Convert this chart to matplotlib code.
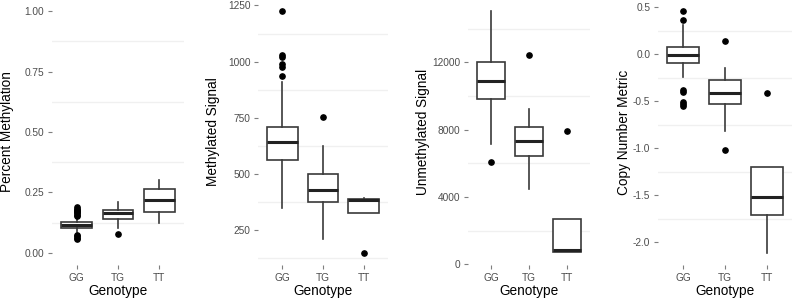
import matplotlib
matplotlib.use("Agg")
import matplotlib.pyplot as plt
from matplotlib.ticker import MultipleLocator

plt.rcParams['font.family'] = ['Liberation Sans', 'DejaVu Sans']

genotypes = ['GG', 'TG', 'TT']

# box stats: (whislo, q1, med, q3, whishi, fliers)
pct_meth = [
    (0.088, 0.105, 0.117, 0.128, 0.145,
     [0.152, 0.158, 0.163, 0.168, 0.173, 0.178, 0.183, 0.188,
      0.058, 0.063, 0.068, 0.073]),
    (0.101, 0.142, 0.166, 0.177, 0.209, [0.080]),
    (0.122, 0.170, 0.218, 0.263, 0.300, []),
]
meth_signal = [
    (347, 559, 641, 707, 908, [935, 975, 990, 1020, 1028, 1225]),
    (210, 375, 428, 500, 624, [751]),
    (326, 326, 383, 385, 391, [146]),
]
unmeth_signal = [
    (7150, 9800, 10890, 12000, 15050, [6060]),
    (4450, 6430, 7340, 8170, 9210, [12430]),
    (750, 750, 850, 2690, 2690, [7900]),
]
copy_number = [
    (-0.245, -0.096, -0.007, 0.075, 0.31,
     [0.46, 0.366, -0.38, -0.40, -0.505, -0.53, -0.55]),
    (-0.816, -0.527, -0.41, -0.278, -0.143, [0.145, -1.019]),
    (-2.115, -1.716, -1.524, -1.2, -1.2, [-0.417]),
]

panels = [
    ('Percent Methylation', pct_meth, (-0.05, 1.05), 0.25),
    ('Methylated Signal', meth_signal, (92, 1279), 250),
    ('Unmethylated Signal', unmeth_signal, (-40, 15760), 4000),
    ('Copy Number Metric', copy_number, (-2.244, 0.589), 0.5),
]

# panel x extents in pixels, and centre x of the rotated y label
panel_px = [(52, 184), (258, 388), (468, 590), (658, 792)]
ylab_px = [7.5, 212.5, 422.5, 624]

W, H = 795, 299
fig = plt.figure(figsize=(W / 100, H / 100), dpi=100)

tick_col = '#4d4d4d'
for (ylab, stats, ylim, step), (x0, x1), lx in zip(panels, panel_px, ylab_px):
    ax = fig.add_axes([x0 / W, (H - 265) / H, (x1 - x0) / W, 266 / H])
    bxp_stats = []
    for g, (lo, q1, med, q3, hi, fl) in zip(genotypes, stats):
        bxp_stats.append(dict(label=g, whislo=lo, q1=q1, med=med, q3=q3,
                              whishi=hi, fliers=fl))
    ax.bxp(bxp_stats, positions=[1, 2, 3], widths=0.75, showcaps=False,
           patch_artist=True,
           boxprops=dict(facecolor='white', edgecolor='#3a3a3a', linewidth=1.2),
           whiskerprops=dict(color='#3a3a3a', linewidth=1.2),
           medianprops=dict(color='#222222', linewidth=2.2),
           flierprops=dict(marker='o', markerfacecolor='black',
                           markeredgecolor='black', markersize=3.8))
    ax.set_xlim(0.4, 3.6)
    ax.set_ylim(*ylim)
    ax.yaxis.set_major_locator(MultipleLocator(step))
    ax.yaxis.set_minor_locator(MultipleLocator(step / 2))
    ax.set_axisbelow(True)
    ax.grid(which='minor', axis='y', color='#f0f0f0', linewidth=1.0)
    ax.grid(which='major', axis='x', color='white', linewidth=1.5)
    for s in ax.spines.values():
        s.set_visible(False)
    ax.tick_params(axis='both', which='major', length=3, width=0.8,
                   color='#7f7f7f', labelcolor=tick_col, labelsize=7.3, pad=2.5)
    ax.tick_params(axis='y', which='minor', length=0)
    if step == 0.25:
        ax.yaxis.set_major_formatter(lambda v, p: f'{v:.2f}')
    elif step == 0.5:
        ax.yaxis.set_major_formatter(lambda v, p: f'{v:.1f}')
    ax.set_ylabel(ylab, fontsize=9.8, va='center')
    ax.yaxis.set_label_coords((lx - x0) / (x1 - x0), 0.5)
    ax.set_xlabel('Genotype', fontsize=9.8, va='center')
    ax.xaxis.set_label_coords(0.5, (265 - 291) / 266)

fig.savefig('out.png', dpi=100)
